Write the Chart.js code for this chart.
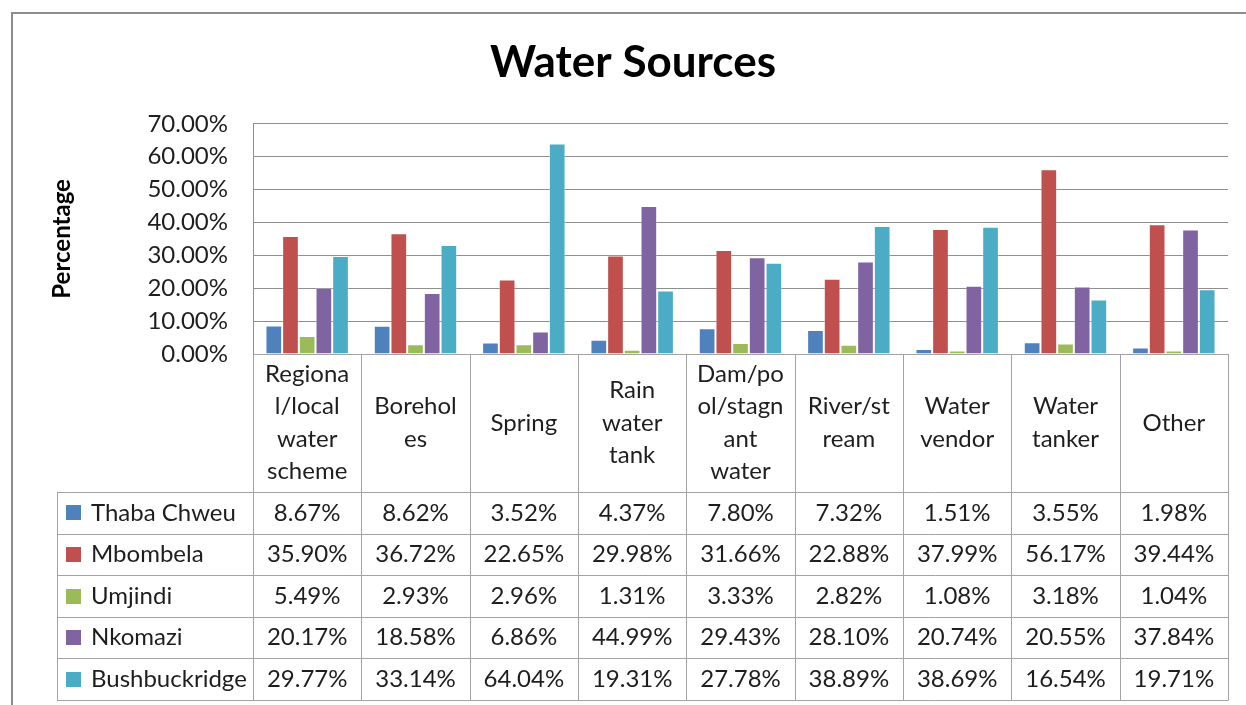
<!DOCTYPE html>
<html>
<head>
<meta charset="utf-8">
<title>Water Sources</title>
<script src="https://cdn.jsdelivr.net/npm/chart.js@4.4.0/dist/chart.umd.min.js"></script>
<style>
  html, body { margin: 0; padding: 0; background: #fff; overflow: hidden; }
  #wrap { position: relative; width: 1246px; height: 705px; }
  #frame { position: absolute; left: 11px; top: 12px; width: 1300px; height: 800px;
           border-left: 2px solid #8c8c8c; border-top: 2px solid #8c8c8c; }
  canvas { position: absolute; left: 0; top: 0; }
</style>
</head>
<body>
<div id="wrap">
  <div id="frame"></div>
  <canvas id="waterChart" width="1246" height="705"></canvas>
</div>
<script>
// categories, wrapped the way they show in the table header
const categories = [
  ['Regiona', 'l/local', 'water', 'scheme'],
  ['Borehol', 'es'],
  ['Spring'],
  ['Rain', 'water', 'tank'],
  ['Dam/po', 'ol/stagn', 'ant', 'water'],
  ['River/st', 'ream'],
  ['Water', 'vendor'],
  ['Water', 'tanker'],
  ['Other']
];

const seriesNames = ['Thaba Chweu', 'Mbombela', 'Umjindi', 'Nkomazi', 'Bushbuckridge'];
const seriesColors = ['#4F81BD', '#C0504D', '#9BBB59', '#8064A2', '#4BACC6'];

// percentages per municipality
const thabaChweu    = [8.67, 8.62, 3.52, 4.37, 7.80, 7.32, 1.51, 3.55, 1.98];
const mbombela      = [35.90, 36.72, 22.65, 29.98, 31.66, 22.88, 37.99, 56.17, 39.44];
const umjindi       = [5.49, 2.93, 2.96, 1.31, 3.33, 2.82, 1.08, 3.18, 1.04];
const nkomazi       = [20.17, 18.58, 6.86, 44.99, 29.43, 28.10, 20.74, 20.55, 37.84];
const bushbuckridge = [29.77, 33.14, 64.04, 19.31, 27.78, 38.89, 38.69, 16.54, 19.71];

const yMax = 70;
const yStep = 10;

const seriesValues = [thabaChweu, mbombela, umjindi, nkomazi, bushbuckridge];

const FONT = 'Lato, "Open Sans", sans-serif';
const TEXT = '#1e1e1e';
const LINE = '#a3a3a3';

// draws the category header row and the data table under the plot
const dataTable = {
  id: 'dataTable',
  afterDraw(chart) {
    const { ctx, chartArea, scales } = chart;
    const x = scales.x;
    const labels = chart.data.labels;
    const n = labels.length;
    const cell = (chartArea.right - chartArea.left) / n;
    const axisY = Math.round(chartArea.bottom);
    const headBottom = axisY + 138;
    const rowH = 41.6;
    const tableLeft = 57;
    const tableBottom = Math.round(headBottom + rowH * seriesNames.length);

    ctx.save();
    ctx.strokeStyle = LINE;
    ctx.lineWidth = 1;
    ctx.beginPath();
    // vertical dividers on the category boundaries
    for (let k = 0; k <= n; k++) {
      const bx = Math.round(chartArea.left + k * cell) + 0.5;
      ctx.moveTo(bx, axisY);
      ctx.lineTo(bx, tableBottom);
    }
    ctx.moveTo(tableLeft + 0.5, headBottom);
    ctx.lineTo(tableLeft + 0.5, tableBottom);
    // horizontal rules
    ctx.moveTo(chartArea.left, axisY + 0.5);
    ctx.lineTo(chartArea.right, axisY + 0.5);
    for (let r = 0; r <= seriesNames.length; r++) {
      const ry = Math.round(headBottom + r * rowH) + 0.5;
      ctx.moveTo(tableLeft, ry);
      ctx.lineTo(chartArea.right + 0.5, ry);
    }
    ctx.stroke();

    ctx.fillStyle = TEXT;
    ctx.textAlign = 'center';
    ctx.textBaseline = 'middle';
    ctx.font = '24px ' + FONT;
    // wrapped category names
    const headMid = (axisY + headBottom) / 2;
    const lineH = 32.5;
    labels.forEach((lines, i) => {
      const cx = x.getPixelForValue(i);
      const top = headMid - (lines.length - 1) * lineH / 2;
      lines.forEach((t, j) => ctx.fillText(t, cx, top + j * lineH));
    });

    // one row per series
    chart.data.datasets.forEach((ds, r) => {
      const cy = headBottom + r * rowH + rowH / 2;
      ctx.fillStyle = ds.backgroundColor;
      ctx.fillRect(66, Math.round(cy - 7.5), 15, 15);
      ctx.fillStyle = TEXT;
      ctx.textAlign = 'left';
      ctx.fillText(ds.label, 91, cy);
      ctx.textAlign = 'center';
      ds.data.forEach((v, i) => {
        ctx.fillText(v.toFixed(2) + '%', x.getPixelForValue(i), cy);
      });
    });
    ctx.restore();
  }
};

const datasets = seriesNames.map((name, i) => ({
  label: name,
  data: seriesValues[i],
  backgroundColor: seriesColors[i],
  borderColor: 'rgba(255,255,255,0.35)',
  borderWidth: 1,
  categoryPercentage: 0.77,
  barPercentage: 1.0
}));

new Chart(document.getElementById('waterChart'), {
  type: 'bar',
  data: { labels: categories, datasets: datasets },
  plugins: [dataTable],
  options: {
    responsive: false,
    animation: false,
    devicePixelRatio: 1,
    layout: { padding: { left: 38, right: 18, top: 0, bottom: 0 } },
    plugins: {
      legend: { display: false },
      tooltip: { enabled: false },
      title: {
        display: true,
        text: 'Water Sources',
        color: '#000',
        font: { family: FONT, size: 44, weight: 'bold' },
        padding: { top: 36, bottom: 35 }
      }
    },
    scales: {
      x: {
        ticks: { display: false },
        grid: { display: false },
        border: { display: false },
        afterFit(scale) { scale.height = 351; }
      },
      y: {
        min: 0,
        max: yMax,
        ticks: {
          stepSize: yStep,
          padding: 25,
          color: TEXT,
          font: { family: FONT, size: 24 },
          callback: v => v.toFixed(2) + '%'
        },
        grid: { color: '#8e8e8e', drawTicks: false },
        border: { color: '#8e8e8e' },
        title: {
          display: true,
          text: 'Percentage',
          color: '#000',
          font: { family: FONT, size: 24, weight: 'bold' },
          padding: { top: 10, bottom: 0 }
        },
        afterFit(scale) { scale.width = 215; }
      }
    }
  }
});
</script>
</body>
</html>
